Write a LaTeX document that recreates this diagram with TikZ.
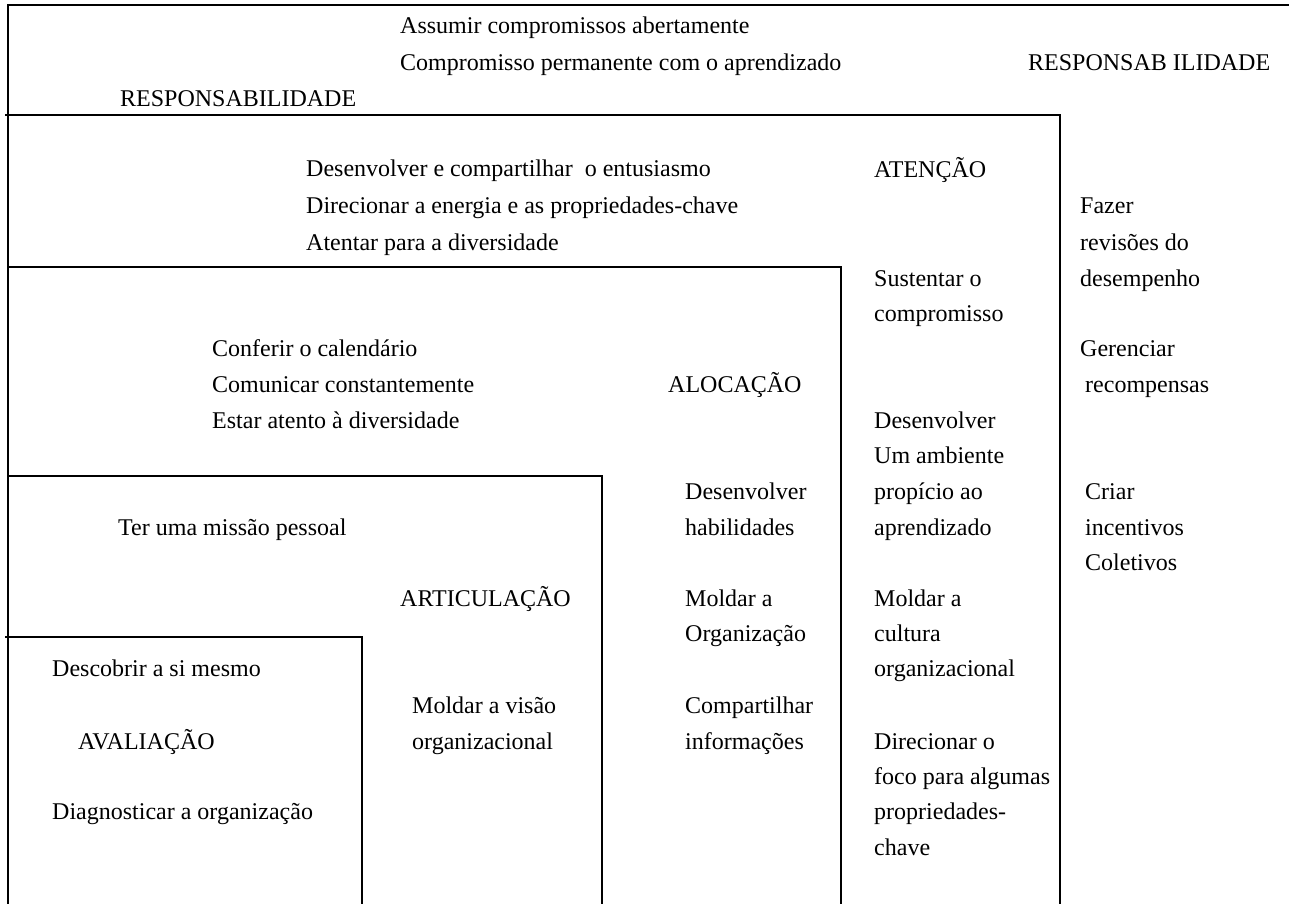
\documentclass[tikz,border=0pt]{standalone}
\usepackage{fontspec}
\setmainfont{Liberation Serif}
\begin{document}
\begin{tikzpicture}[x=1pt,y=-1pt,
  lbl/.style={anchor=base west,inner sep=0pt,font=\fontsize{24}{30}\selectfont},
  frame/.style={line width=2pt,line cap=rect}]
\useasboundingbox (0,0) rectangle (1289,903);
% frame lines
\draw[frame] (8,903) -- (8,5) -- (1289,5);
\draw[frame] (6,115) -- (1060,115) -- (1060,903);
\draw[frame] (8,267) -- (841,267) -- (841,903);
\draw[frame] (10,476) -- (602,476) -- (602,903);
\draw[frame] (6,637) -- (362,637) -- (362,903);
% top band
\node[lbl] (t1) at (400,33) {Assumir compromissos abertamente};
\node[lbl] (t2) at (400,70) {Compromisso permanente com o aprendizado};
\node[lbl] (r1) at (1028,70) {RESPONSAB ILIDADE};
\node[lbl] (r2) at (120,106) {RESPONSABILIDADE};
% attention band
\node[lbl] (a1) at (306,176) {Desenvolver e compartilhar \ o entusiasmo};
\node[lbl] (a2) at (306,213) {Direcionar a energia e as propriedades-chave};
\node[lbl] (a3) at (306,250) {Atentar para a diversidade};
\node[lbl] (at) at (874,177) {ATENÇÃO};
% right column
\node[lbl] (f1) at (1080,213) {Fazer};
\node[lbl] (f2) at (1080,250) {revisões do};
\node[lbl] (f3) at (1080,286) {desempenho};
\node[lbl] (g1) at (1080,356) {Gerenciar};
\node[lbl] (g2) at (1085,392) {recompensas};
\node[lbl] (c1) at (1085,499) {Criar};
\node[lbl] (c2) at (1085,535) {incentivos};
\node[lbl] (c3) at (1085,570) {Coletivos};
% attention column
\node[lbl] (s1) at (874,286) {Sustentar o};
\node[lbl] (s2) at (874,321) {compromisso};
\node[lbl] (d1) at (874,428) {Desenvolver};
\node[lbl] (d2) at (874,463) {Um ambiente};
\node[lbl] (d3) at (874,499) {propício ao};
\node[lbl] (d4) at (874,535) {aprendizado};
\node[lbl] (m1) at (874,606) {Moldar a};
\node[lbl] (m2) at (874,641) {cultura};
\node[lbl] (m3) at (874,676) {organizacional};
\node[lbl] (o1) at (874,749) {Direcionar o};
\node[lbl] (o2) at (874,784) {foco para algumas};
\node[lbl] (o3) at (874,819) {propriedades-};
\node[lbl] (o4) at (874,855) {chave};
% allocation band
\node[lbl] (l1) at (212,356) {Conferir o calendário};
\node[lbl] (l2) at (212,392) {Comunicar constantemente};
\node[lbl] (l3) at (212,428) {Estar atento à diversidade};
\node[lbl] (al) at (668,392) {ALOCAÇÃO};
% allocation column
\node[lbl] (h1) at (685,499) {Desenvolver};
\node[lbl] (h2) at (685,535) {habilidades};
\node[lbl] (h3) at (685,606) {Moldar a};
\node[lbl] (h4) at (685,641) {Organização};
\node[lbl] (h5) at (685,713) {Compartilhar};
\node[lbl] (h6) at (685,749) {informações};
% articulation
\node[lbl] (p1) at (118,535) {Ter uma missão pessoal};
\node[lbl] (ar) at (400,606) {ARTICULAÇÃO};
\node[lbl] (v1) at (412,713) {Moldar a visão};
\node[lbl] (v2) at (412,749) {organizacional};
% evaluation
\node[lbl] (e1) at (52,676) {Descobrir a si mesmo};
\node[lbl] (av) at (78,749) {AVALIAÇÃO};
\node[lbl] (e2) at (52,819) {Diagnosticar a organização};
\end{tikzpicture}
\end{document}
